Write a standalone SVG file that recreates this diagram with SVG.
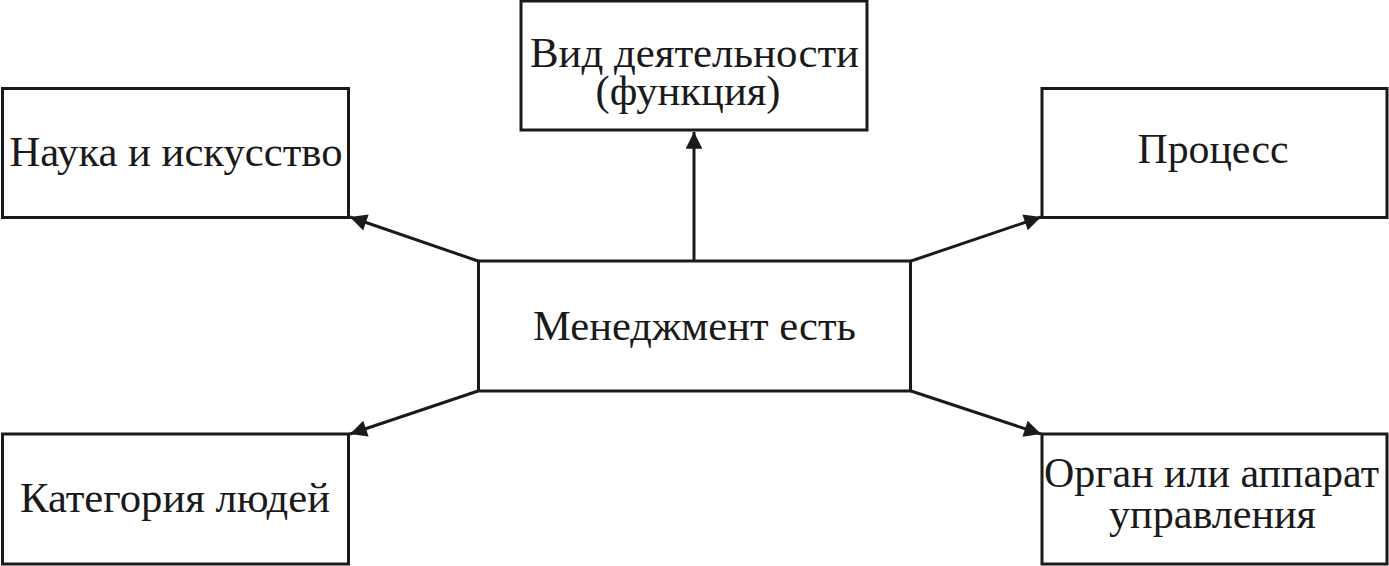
<svg xmlns="http://www.w3.org/2000/svg" width="1389" height="566" viewBox="0 0 1389 566">
<style>
.box{fill:#fff;stroke:#1a1a1a;stroke-width:3}
.lbl{font-family:"Liberation Serif","Times New Roman",serif;font-size:42px;fill:#1a1a1a;text-anchor:middle}
.con{stroke:#1a1a1a;stroke-width:3;fill:none;marker-end:url(#ah)}
</style>
<defs>
<marker id="ah" viewBox="0 0 10 10" refX="10" refY="5" markerWidth="7.3" markerHeight="5.6" orient="auto" markerUnits="strokeWidth">
<path d="M0,0 L10,5 L0,10 z" fill="#1a1a1a"/>
</marker>
</defs>
<rect width="1389" height="566" fill="#fff"/>
<g id="connectors">
<line class="con" x1="694" y1="261" x2="694" y2="132"/>
<line class="con" x1="478" y1="261" x2="350" y2="217"/>
<line class="con" x1="911" y1="261" x2="1041" y2="217"/>
<line class="con" x1="478" y1="391" x2="350" y2="434"/>
<line class="con" x1="911" y1="391" x2="1041" y2="434"/>
</g>
<g id="center">
<rect class="box" x="478.5" y="261" width="432" height="130"/>
<text class="lbl" x="694.5" y="340" textLength="323" lengthAdjust="spacingAndGlyphs">Менеджмент есть</text>
</g>
<g id="top">
<rect class="box" x="521" y="1" width="346" height="129"/>
<text class="lbl"><tspan x="694.5" y="67" textLength="329" lengthAdjust="spacingAndGlyphs">Вид деятельности</tspan><tspan x="688" y="105" textLength="185" lengthAdjust="spacingAndGlyphs">(функция)</tspan></text>
</g>
<g id="science">
<rect class="box" x="2.5" y="88.5" width="346" height="129"/>
<text class="lbl" x="176" y="166" textLength="333" lengthAdjust="spacingAndGlyphs">Наука и искусство</text>
</g>
<g id="process">
<rect class="box" x="1042" y="88.5" width="345" height="129"/>
<text class="lbl" x="1213" y="163" textLength="151" lengthAdjust="spacingAndGlyphs">Процесс</text>
</g>
<g id="people">
<rect class="box" x="2.5" y="434" width="346" height="130"/>
<text class="lbl" x="175" y="512" textLength="310" lengthAdjust="spacingAndGlyphs">Категория людей</text>
</g>
<g id="organ">
<rect class="box" x="1042" y="434" width="345" height="130"/>
<text class="lbl"><tspan x="1211.5" y="487" textLength="335" lengthAdjust="spacingAndGlyphs">Орган или аппарат</tspan><tspan x="1212.5" y="528" textLength="207" lengthAdjust="spacingAndGlyphs">управления</tspan></text>
</g>
</svg>
